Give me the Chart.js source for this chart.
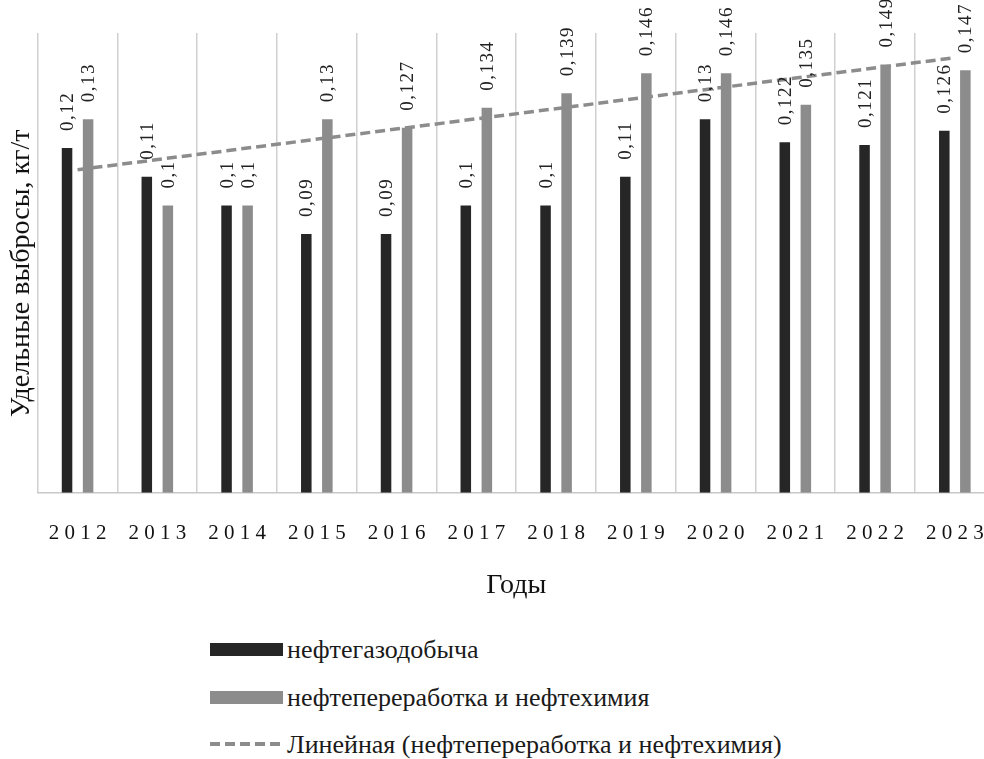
<!DOCTYPE html>
<html>
<head>
<meta charset="utf-8">
<script src="https://cdn.jsdelivr.net/npm/chart.js@4.4.1/dist/chart.umd.min.js"></script>
<style>
  html, body { margin: 0; padding: 0; background: #ffffff; overflow: hidden; width: 984px; height: 759px; }
  #wrap { position: absolute; left: 0; top: 0; width: 1012px; height: 610px; }
  #c { display: block; width: 1012px; height: 610px; }
  #legend { position: absolute; left: 210px; top: 627px; font-family: "Liberation Serif", "Times New Roman", serif; font-size: 26px; color: #1a1a1a; }
  .item { position: relative; height: 47.5px; line-height: 46px; white-space: nowrap; }
  .sw { position: absolute; left: 0; top: 16px; width: 73px; height: 13px; }
  .txt { position: absolute; left: 77px; top: 0; }
  .dash { top: 20px; height: 4px; background: repeating-linear-gradient(90deg, #8c8c8c 0 10px, transparent 10px 15px); }
</style>
</head>
<body>
<div id="wrap"><canvas id="c" width="1012" height="610"></canvas></div>
<div id="legend"></div>
<script>
const years = ['2012','2013','2014','2015','2016','2017','2018','2019','2020','2021','2022','2023'];
const extraction = [0.12, 0.11, 0.1, 0.09, 0.09, 0.1, 0.1, 0.11, 0.13, 0.122, 0.121, 0.126];
const refining = [0.13, 0.1, 0.1, 0.13, 0.127, 0.134, 0.139, 0.146, 0.146, 0.135, 0.149, 0.147];
// linear trendline end values (2012 and 2023)
const trendEnds = [0.1124, 0.1514];
const seriesNames = ['нефтегазодобыча', 'нефтепереработка и нефтехимия', 'Линейная (нефтепереработка и нефтехимия)'];
const yTitle = 'Удельные выбросы, кг/т';
const xTitle = 'Годы';

const trendData = years.map((y, i) => i === 0 ? trendEnds[0] : (i === years.length - 1 ? trendEnds[1] : null));

const labelPlugin = {
  id: 'vlabels',
  afterDatasetsDraw(chart) {
    const ctx = chart.ctx;
    [0, 1].forEach(di => {
      const meta = chart.getDatasetMeta(di);
      const vals = chart.data.datasets[di].data;
      meta.data.forEach((bar, i) => {
        const txt = String(vals[i]).replace('.', ',');
        ctx.save();
        ctx.font = '19px "Liberation Serif", "Times New Roman", serif';
        ctx.letterSpacing = '1.5px';
        ctx.fillStyle = '#222222';
        ctx.translate(bar.x, bar.y - 17);
        ctx.rotate(-Math.PI / 2);
        ctx.textAlign = 'left';
        ctx.textBaseline = 'middle';
        ctx.fillText(txt, 0, 1);
        ctx.restore();
      });
    });
  }
};

const serif = '"Liberation Serif", "Times New Roman", serif';

new Chart(document.getElementById('c'), {
  data: {
    labels: years,
    datasets: [
      { type: 'bar', label: seriesNames[0], data: extraction, backgroundColor: '#262626', categoryPercentage: 0.528, barPercentage: 0.5, order: 1 },
      { type: 'bar', label: seriesNames[1], data: refining, backgroundColor: '#8c8c8c', categoryPercentage: 0.528, barPercentage: 0.5, order: 1 },
      { type: 'line', label: seriesNames[2], data: trendData, spanGaps: true, borderColor: '#8c8c8c', borderWidth: 3.5, borderDash: [10, 5], pointRadius: 0, fill: false, order: -1 }
    ]
  },
  options: {
    responsive: false,
    animation: false,
    layout: { padding: { top: 33, right: 7, left: 0, bottom: 0 } },
    plugins: { legend: { display: false }, tooltip: { enabled: false } },
    scales: {
      x: {
        offset: true,
        grid: { display: true, color: '#d0d0d0', lineWidth: 1.5, drawTicks: false, offset: true },
        border: { display: true, color: '#c8c8c8', width: 1.5 },
        ticks: {
          color: '#111111',
          font: { family: serif, size: 21 },
          padding: 28,
          callback: function(v) { return this.getLabelForValue(v).split('').join('\u2005'); }
        },
        title: { display: true, text: xTitle, color: '#111111', font: { family: serif, size: 28 }, padding: { top: 0, bottom: 8 } },
        afterFit: s => { s.height = 117.3; }
      },
      y: {
        min: 0, max: 0.16,
        grid: { display: false },
        border: { display: false },
        ticks: { display: false },
        title: { display: true, text: yTitle + '   ', color: '#111111', font: { family: serif, size: 28 }, padding: { top: 5, bottom: 0 } },
        afterFit: s => { s.width = 37.7; }
      }
    }
  },
  plugins: [labelPlugin]
});

// HTML legend
const legend = document.getElementById('legend');
const legendStyles = [
  { cls: 'sw', bg: '#262626' },
  { cls: 'sw', bg: '#8c8c8c' },
  { cls: 'sw dash', bg: null }
];
seriesNames.forEach((name, i) => {
  const item = document.createElement('div');
  item.className = 'item';
  const sw = document.createElement('div');
  sw.className = legendStyles[i].cls;
  if (legendStyles[i].bg) sw.style.background = legendStyles[i].bg;
  const t = document.createElement('span');
  t.className = 'txt';
  t.textContent = name;
  item.appendChild(sw);
  item.appendChild(t);
  legend.appendChild(item);
});
</script>
</body>
</html>
